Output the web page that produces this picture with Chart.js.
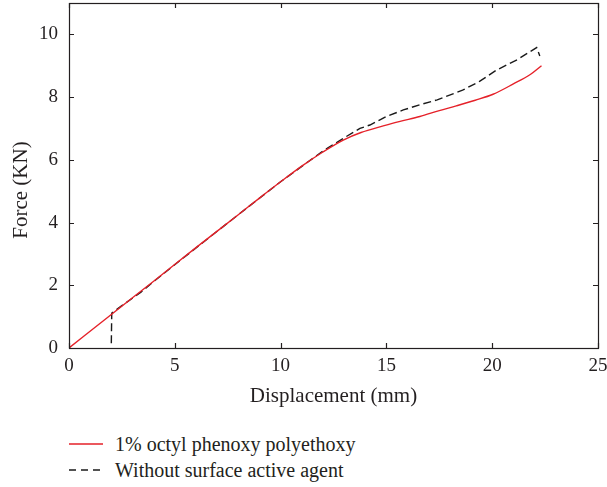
<!DOCTYPE html>
<html>
<head>
<meta charset="utf-8">
<script src="https://cdn.jsdelivr.net/npm/chart.js@4.4.1/dist/chart.umd.min.js"></script>
<style>
  body { margin: 0; background: #fff; }
  #wrap { position: relative; width: 607px; height: 487px; }
  #myChart { position: absolute; left: 0; top: 0; }
  #legend { position: absolute; left: 69px; top: 431px; font-family: "Liberation Serif", serif; font-size: 20px; color: #231f20; }
  #legend .row { height: 26px; display: flex; align-items: center; }
  #legend svg { margin-right: 12px; }
</style>
</head>
<body>
<div id="wrap">
  <canvas id="myChart" width="607" height="420"></canvas>
  <div id="legend"></div>
</div>
<script>
// measured curves
var redX = [0, 2, 4, 6, 8, 9, 10, 11, 12, 12.96, 13.8, 14.85, 15.6, 16.58, 17.5, 18.3, 19.2, 20.04, 21, 21.8, 22.33];
var redY = [0, 1.07, 2.13, 3.2, 4.25, 4.78, 5.3, 5.8, 6.25, 6.63, 6.87, 7.08, 7.22, 7.38, 7.57, 7.72, 7.9, 8.09, 8.42, 8.72, 9.0];

var blackX = [2.0, 2.02, 2.5, 3.4, 4, 6, 8, 10, 12, 13.1, 13.75, 14.22, 15, 15.8, 16.6, 17.4, 18.6, 19.4, 20.2, 21.2, 22.1, 22.25];
var blackY = [0.15, 1.11, 1.35, 1.78, 2.12, 3.19, 4.25, 5.3, 6.28, 6.74, 7.0, 7.11, 7.38, 7.59, 7.76, 7.91, 8.22, 8.5, 8.86, 9.2, 9.58, 9.31];

var xTicks = [0, 5, 10, 15, 20, 25];
var yTicks = [0, 2, 4, 6, 8, 10];

var ink = '#231f20';
var serif = '"Liberation Serif", "Times New Roman", serif';

function pts(xs, ys) {
  return xs.map(function(x, i){ return {x: x, y: ys[i]}; });
}

// box around the plot + inward ticks on all four sides, y title
var frame = {
  id: 'frame',
  afterDatasetsDraw: function(chart) {
    var c = chart.ctx, a = chart.chartArea;
    var sx = chart.scales.x, sy = chart.scales.y;
    var len = 5;
    c.save();
    c.strokeStyle = ink;
    c.lineWidth = 1.2;
    c.strokeRect(Math.round(a.left) + 0.5, Math.round(a.top) + 0.5,
      Math.round(a.right - a.left), Math.round(a.bottom - a.top));
    c.beginPath();
    sx.ticks.forEach(function(t){
      var px = Math.round(sx.getPixelForValue(t.value)) + 0.5;
      c.moveTo(px, a.bottom); c.lineTo(px, a.bottom - len);
      c.moveTo(px, a.top); c.lineTo(px, a.top + len);
    });
    sy.ticks.forEach(function(t){
      var py = Math.round(sy.getPixelForValue(t.value)) + 0.5;
      c.moveTo(a.left, py); c.lineTo(a.left + len, py);
      c.moveTo(a.right, py); c.lineTo(a.right - len, py);
    });
    c.stroke();

    c.translate(21, 190);
    c.rotate(-Math.PI / 2);
    c.fillStyle = ink;
    c.font = '21px ' + serif;
    c.textAlign = 'center';
    c.textBaseline = 'middle';
    c.fillText('Force (KN)', 0, 0);
    c.restore();
  }
};

var ctx = document.getElementById('myChart').getContext('2d');
var myChart = new Chart(ctx, {
  type: 'line',
  data: {
    datasets: [{
      label: '1% octyl phenoxy polyethoxy',
      data: pts(redX, redY),
      borderColor: '#e52129',
      borderWidth: 1.4,
      pointRadius: 0,
      cubicInterpolationMode: 'monotone',
      fill: false
    }, {
      label: 'Without surface active agent',
      data: pts(blackX, blackY),
      borderColor: '#1a1a1a',
      borderWidth: 1.4,
      borderDash: [8, 4],
      pointRadius: 0,
      tension: 0,
      fill: false
    }]
  },
  options: {
    responsive: false,
    animation: false,
    layout: { padding: { top: 3, right: 9, left: 0, bottom: 0 } },
    plugins: { legend: { display: false }, tooltip: { enabled: false } },
    scales: {
      x: {
        type: 'linear',
        min: 0, max: 25,
        afterBuildTicks: function(s){ s.ticks = xTicks.map(function(v){ return {value: v}; }); },
        afterFit: function(s){ s.height = 72; s.paddingLeft = 0; s.paddingRight = 0; },
        grid: { display: false, drawTicks: false },
        border: { display: false },
        ticks: { padding: 7, color: ink, font: { family: serif, size: 19 } },
        title: {
          display: true,
          text: 'Displacement (mm)',
          color: ink,
          font: { family: serif, size: 21 },
          padding: { top: 0, bottom: 11 }
        }
      },
      y: {
        type: 'linear',
        min: 0, max: 11,
        afterBuildTicks: function(s){ s.ticks = yTicks.map(function(v){ return {value: v}; }); },
        afterFit: function(s){ s.width = 69; s.paddingTop = 0; s.paddingBottom = 0; },
        grid: { display: false, drawTicks: false },
        border: { display: false },
        ticks: { padding: 11, color: ink, font: { family: serif, size: 19 } }
      }
    }
  },
  plugins: [frame]
});

// legend under the chart, one row per dataset
var legend = document.getElementById('legend');
myChart.data.datasets.forEach(function(ds){
  var row = document.createElement('div');
  row.className = 'row';
  var dash = ds.borderDash ? ' stroke-dasharray="7 5"' : '';
  row.innerHTML = '<svg width="34" height="4"><line x1="0" y1="2" x2="34" y2="2" stroke="' +
    ds.borderColor + '" stroke-width="1.4"' + dash + '/></svg><span>' + ds.label + '</span>';
  legend.appendChild(row);
});
</script>
</body>
</html>
